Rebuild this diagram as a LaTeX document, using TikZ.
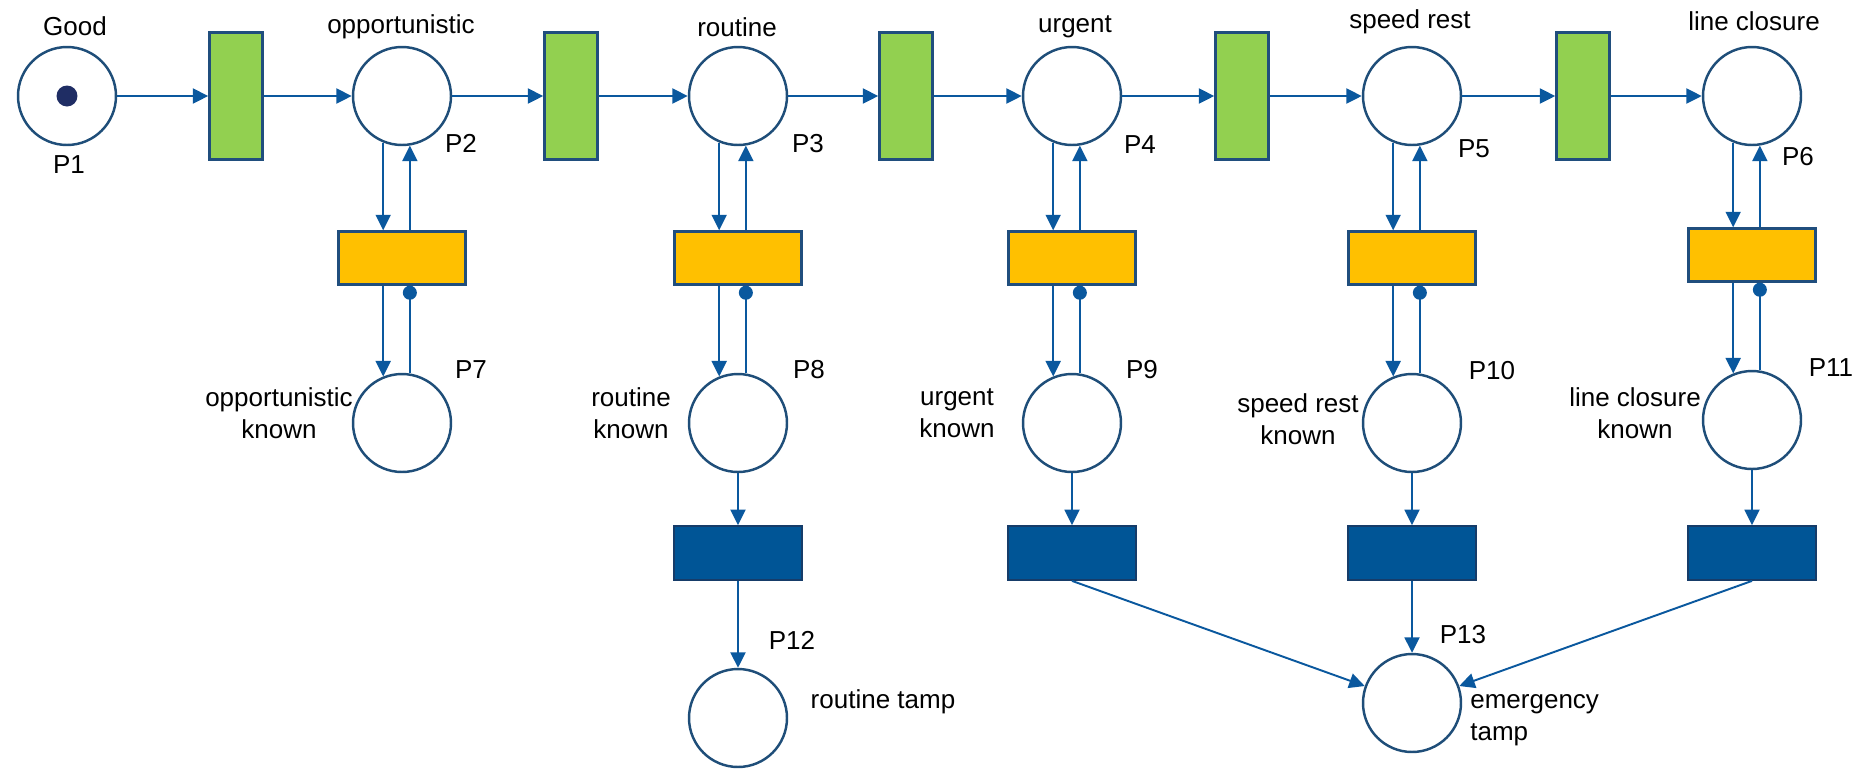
\documentclass[tikz,border=0pt]{standalone}
\usepackage{fontspec}
\setmainfont{Liberation Sans}
\usepackage{tikz}
\usetikzlibrary{arrows.meta, positioning}

\definecolor{placeblue}{RGB}{31,78,121}
\definecolor{arcblue}{RGB}{10,88,158}
\definecolor{tokenblue}{RGB}{31,45,100}
\definecolor{edgeblue}{RGB}{32,78,125}
\definecolor{tgreen}{RGB}{146,208,80}
\definecolor{tyellow}{RGB}{255,192,0}
\definecolor{tblue}{RGB}{0,85,150}
\definecolor{tblueedge}{RGB}{22,60,105}

\begin{document}
\begin{tikzpicture}[x=0.02cm, y=-0.02cm, >={Triangle[length=0.31cm, width=0.3cm]},
  place/.style={circle, draw=placeblue, line width=1.4pt, fill=white, minimum size=1.96cm, inner sep=0pt},
  gtrans/.style={rectangle, draw=edgeblue, line width=1.4pt, fill=tgreen, minimum width=1.06cm, minimum height=2.54cm, inner sep=0pt},
  ytrans/.style={rectangle, draw=edgeblue, line width=1.4pt, fill=tyellow, minimum width=2.54cm, minimum height=1.06cm, inner sep=0pt},
  btrans/.style={rectangle, draw=tblueedge, line width=1pt, fill=tblue, minimum width=2.56cm, minimum height=1.08cm, inner sep=0pt},
  flow/.style={->, arcblue, line width=1.1pt},
  testarc/.style={-{Circle[length=0.28cm]}, arcblue, line width=1.1pt},
  lbl/.style={font=\fontsize{14.8}{18.2}\selectfont, inner sep=0pt}]
\useasboundingbox (0,0) rectangle (1860,768);

% Top row: places and green transitions
\node[place] (P1) at (67,96) {};
\node[circle, fill=tokenblue, minimum size=0.42cm, inner sep=0pt] (tok) at (P1) {};
\foreach \i/\x in {2/402, 3/738, 4/1072, 5/1412, 6/1752} {
  \node[place] (P\i) at (\x,96) {};
}
\foreach \i/\x in {1/236, 2/571, 3/906, 4/1242, 5/1583} {
  \node[gtrans] (T\i) at (\x,96) {};
}
\foreach \i [evaluate=\i as \j using int(\i+1)] in {1,...,5} {
  \draw[flow] (P\i) -- (T\i);
  \draw[flow] (T\i) -- (P\j);
}

% Columns: yellow transitions and "known" places
\foreach \i/\x/\ty/\py [evaluate=\i as \j using int(\i+5)] in
    {2/402/258/423, 3/738/258/423, 4/1072/258/423, 5/1412/258/423, 6/1752/255/420} {
  \node[ytrans] (Y\i) at (\x,\ty) {};
  \node[place] (P\j) at (\x,\py) {};
  \draw[flow] (P\i.248) -- (P\i.248 |- Y\i.north);
  \draw[flow] (Y\i.north -| P\i.279) -- (P\i.279);
  \draw[flow] (Y\i.south -| P\j.112) -- (P\j.112);
  \draw[testarc] (P\j.81) -- (P\j.81 |- Y\i.south);
}

% Blue transitions and tamping places
\foreach \i/\x in {8/738, 9/1072, 10/1412, 11/1752} {
  \node[btrans] (B\i) at (\x,553) {};
  \draw[flow] (P\i) -- (B\i);
}
\node[place] (P12) at (738,718) {};
\node[place] (P13) at (1412,703) {};
\draw[flow] (B8) -- (P12);
\draw[flow] (B9.south) -- (P13);
\draw[flow] (B10) -- (P13);
\draw[flow] (B11.south) -- (P13);

% Labels
\node[lbl, anchor=base] (lgood) at (75,35) {Good};
\node[lbl, anchor=base] (lopp) at (401,33) {opportunistic};
\node[lbl, anchor=base] (lrout) at (737,36) {routine};
\node[lbl, anchor=base] (lurg) at (1075,32) {urgent};
\node[lbl, anchor=base] (lspeed) at (1410,28) {speed rest};
\node[lbl, anchor=base] (lclos) at (1754,30) {line closure};
\foreach \n/\x/\y in {1/69/173, 2/461/152, 3/808/152, 4/1140/153, 5/1474/157, 6/1798/165,
    7/471/378, 8/809/378, 9/1142/378, 10/1492/379, 11/1831/376, 12/792/649, 13/1463/643} {
  \node[lbl, anchor=base] (n\n) at (\x,\y) {P\n};
}
\node[lbl, align=center] (lkopp) at (279,413) {opportunistic\\known};
\node[lbl, align=center] (lkrout) at (631,413) {routine\\known};
\node[lbl, align=center] (lkurg) at (957,413) {urgent\\known};
\node[lbl, align=center] (lkspeed) at (1298,419) {speed rest\\known};
\node[lbl, align=center] (lkclos) at (1635,413) {line closure\\known};
\node[lbl, anchor=base] (ltamp) at (883,708) {routine tamp};
\node[lbl, align=left, anchor=west] (letamp) at (1470,720) {emergency\\tamp};

\end{tikzpicture}
\end{document}
